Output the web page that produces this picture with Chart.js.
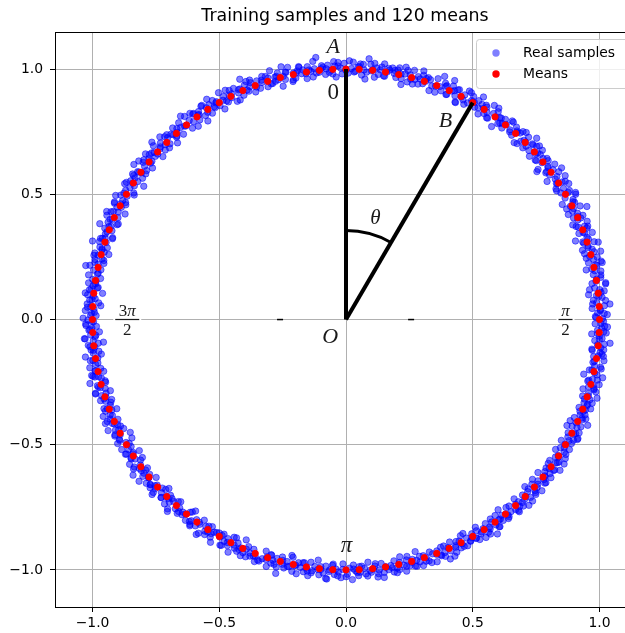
<!DOCTYPE html>
<html><head><meta charset="utf-8">
<script src="https://cdn.jsdelivr.net/npm/chart.js@4.4.1/dist/chart.umd.min.js"></script>
<style>
html,body{margin:0;padding:0;overflow:hidden;background:#fff;width:625px;height:633px}
#wrap{position:absolute;left:0;top:0;width:646px;height:633px}
</style>
</head><body><div id="wrap"><canvas id="c" width="646" height="633"></canvas></div>
<script>
const chartTitle = 'Training samples and 120 means';
const seriesNames = ['Real samples', 'Means'];
const tickValues = [-1.0, -0.5, 0.0, 0.5, 1.0];

// 120 means (x, y)
const meanX = [1,.999,.995,.988,.978,.966,.951,.934,.914,.891,.866,.839,.809,.777,.743,.707,.669,.629,.588,.545,.5,.454,.407,.358,.309,.259,.208,.156,.105,.052,0,
-.052,-.105,-.156,-.208,-.259,-.309,-.358,-.407,-.454,-.5,-.545,-.588,-.629,-.669,-.707,-.743,-.777,-.809,-.839,-.866,-.891,-.914,-.934,-.951,-.966,-.978,-.988,-.995,-.999,-1,
-.999,-.995,-.988,-.978,-.966,-.951,-.934,-.914,-.891,-.866,-.839,-.809,-.777,-.743,-.707,-.669,-.629,-.588,-.545,-.5,-.454,-.407,-.358,-.309,-.259,-.208,-.156,-.105,-.052,0,
.052,.105,.156,.208,.259,.309,.358,.407,.454,.5,.545,.588,.629,.669,.707,.743,.777,.809,.839,.866,.891,.914,.934,.951,.966,.978,.988,.995,.999];
const meanY = [0,.052,.105,.156,.208,.259,.309,.358,.407,.454,.5,.545,.588,.629,.669,.707,.743,.777,.809,.839,.866,.891,.914,.934,.951,.966,.978,.988,.995,.999,1,
.999,.995,.988,.978,.966,.951,.934,.914,.891,.866,.839,.809,.777,.743,.707,.669,.629,.588,.545,.5,.454,.407,.358,.309,.259,.208,.156,.105,.052,0,
-.052,-.105,-.156,-.208,-.259,-.309,-.358,-.407,-.454,-.5,-.545,-.588,-.629,-.669,-.707,-.743,-.777,-.809,-.839,-.866,-.891,-.914,-.934,-.951,-.966,-.978,-.988,-.995,-.999,-1,
-.999,-.995,-.988,-.978,-.966,-.951,-.934,-.914,-.891,-.866,-.839,-.809,-.777,-.743,-.707,-.669,-.629,-.588,-.545,-.5,-.454,-.407,-.358,-.309,-.259,-.208,-.156,-.105,-.052];

// real samples, polar: angle (degrees) and radius
const sampleDeg = [
0.2,0.7,1.1,1.5,2.0,2.6,3.1,3.4,3.9,4.5,5.0,5.3,5.9,6.4,6.8,7.3,7.9,8.4,8.8,9.5,
10.4,10.9,11.2,11.8,12.3,12.7,13.3,13.8,14.1,14.7,15.2,15.6,16.1,16.5,17.1,17.6,18.0,18.6,19.1,19.7,
20.1,20.5,21.0,21.6,21.9,22.4,22.9,23.5,24.0,24.3,24.9,25.4,25.8,26.3,26.9,27.4,27.7,28.3,28.9,29.3,
30.3,30.8,31.4,31.7,32.2,32.8,33.2,33.6,34.2,34.8,35.1,35.7,36.2,36.6,37.0,37.5,38.1,38.5,39.0,39.6,
40.2,40.7,41.1,41.5,42.0,42.6,43.1,43.4,43.9,44.5,45.0,45.3,45.9,46.4,46.8,47.3,47.9,48.4,48.8,49.5,
50.4,50.9,51.2,51.8,52.3,52.7,53.3,53.8,54.1,54.7,55.2,55.6,56.1,56.5,57.1,57.6,58.0,58.6,59.1,59.7,
60.1,60.5,61.0,61.6,61.9,62.4,62.9,63.5,64.0,64.3,64.9,65.4,65.8,66.3,66.9,67.4,67.7,68.3,68.9,69.3,
70.3,70.8,71.4,71.7,72.2,72.8,73.2,73.6,74.2,74.8,75.1,75.7,76.2,76.6,77.0,77.5,78.1,78.5,79.0,79.6,
80.2,80.7,81.1,81.5,82.0,82.6,83.1,83.4,83.9,84.5,85.0,85.3,85.9,86.4,86.8,87.3,87.9,88.4,88.8,89.5,
90.4,90.9,91.2,91.8,92.3,92.7,93.3,93.8,94.1,94.7,95.2,95.6,96.1,96.5,97.1,97.6,98.0,98.6,99.1,99.7,
100.1,100.5,101.0,101.6,101.9,102.4,102.9,103.5,104.0,104.3,104.9,105.4,105.8,106.3,106.9,107.4,107.7,108.3,108.9,109.3,
110.3,110.8,111.4,111.7,112.2,112.8,113.2,113.6,114.2,114.8,115.1,115.7,116.2,116.6,117.0,117.5,118.1,118.5,119.0,119.6,
120.2,120.7,121.1,121.5,122.0,122.6,123.1,123.4,123.9,124.5,125.0,125.3,125.9,126.4,126.8,127.3,127.9,128.4,128.8,129.5,
130.4,130.9,131.2,131.8,132.3,132.7,133.3,133.8,134.1,134.7,135.2,135.6,136.1,136.5,137.1,137.6,138.0,138.6,139.1,139.7,
140.1,140.5,141.0,141.6,141.9,142.4,142.9,143.5,144.0,144.3,144.9,145.4,145.8,146.3,146.9,147.4,147.7,148.3,148.9,149.3,
150.3,150.8,151.4,151.7,152.2,152.8,153.2,153.6,154.2,154.8,155.1,155.7,156.2,156.6,157.0,157.5,158.1,158.5,159.0,159.6,
160.2,160.7,161.1,161.5,162.0,162.6,163.1,163.4,163.9,164.5,165.0,165.3,165.9,166.4,166.8,167.3,167.9,168.4,168.8,169.5,
170.4,170.9,171.2,171.8,172.3,172.7,173.3,173.8,174.1,174.7,175.2,175.6,176.1,176.5,177.1,177.6,178.0,178.6,179.1,179.7,
180.1,180.5,181.0,181.6,181.9,182.4,182.9,183.5,184.0,184.3,184.9,185.4,185.8,186.3,186.9,187.4,187.7,188.3,188.9,189.3,
190.3,190.8,191.4,191.7,192.2,192.8,193.2,193.6,194.2,194.8,195.1,195.7,196.2,196.6,197.0,197.5,198.1,198.5,199.0,199.6,
200.2,200.7,201.1,201.5,202.0,202.6,203.1,203.4,203.9,204.5,205.0,205.3,205.9,206.4,206.8,207.3,207.9,208.4,208.8,209.5,
210.4,210.9,211.2,211.8,212.3,212.7,213.3,213.8,214.1,214.7,215.2,215.6,216.1,216.5,217.1,217.6,218.0,218.6,219.1,219.7,
220.1,220.5,221.0,221.6,221.9,222.4,222.9,223.5,224.0,224.3,224.9,225.4,225.8,226.3,226.9,227.4,227.7,228.3,228.9,229.3,
230.3,230.8,231.4,231.7,232.2,232.8,233.2,233.6,234.2,234.8,235.1,235.7,236.2,236.6,237.0,237.5,238.1,238.5,239.0,239.6,
240.2,240.7,241.1,241.5,242.0,242.6,243.1,243.4,243.9,244.5,245.0,245.3,245.9,246.4,246.8,247.3,247.9,248.4,248.8,249.5,
250.4,250.9,251.2,251.8,252.3,252.7,253.3,253.8,254.1,254.7,255.2,255.6,256.1,256.5,257.1,257.6,258.0,258.6,259.1,259.7,
260.1,260.5,261.0,261.6,261.9,262.4,262.9,263.5,264.0,264.3,264.9,265.4,265.8,266.3,266.9,267.4,267.7,268.3,268.9,269.3,
270.3,270.8,271.4,271.7,272.2,272.8,273.2,273.6,274.2,274.8,275.1,275.7,276.2,276.6,277.0,277.5,278.1,278.5,279.0,279.6,
280.2,280.7,281.1,281.5,282.0,282.6,283.1,283.4,283.9,284.5,285.0,285.3,285.9,286.4,286.8,287.3,287.9,288.4,288.8,289.5,
290.4,290.9,291.2,291.8,292.3,292.7,293.3,293.8,294.1,294.7,295.2,295.6,296.1,296.5,297.1,297.6,298.0,298.6,299.1,299.7,
300.1,300.5,301.0,301.6,301.9,302.4,302.9,303.5,304.0,304.3,304.9,305.4,305.8,306.3,306.9,307.4,307.7,308.3,308.9,309.3,
310.3,310.8,311.4,311.7,312.2,312.8,313.2,313.6,314.2,314.8,315.1,315.7,316.2,316.6,317.0,317.5,318.1,318.5,319.0,319.6,
320.2,320.7,321.1,321.5,322.0,322.6,323.1,323.4,323.9,324.5,325.0,325.3,325.9,326.4,326.8,327.3,327.9,328.4,328.8,329.5,
330.4,330.9,331.2,331.8,332.3,332.7,333.3,333.8,334.1,334.7,335.2,335.6,336.1,336.5,337.1,337.6,338.0,338.6,339.1,339.7,
340.1,340.5,341.0,341.6,341.9,342.4,342.9,343.5,344.0,344.3,344.9,345.4,345.8,346.3,346.9,347.4,347.7,348.3,348.9,349.3,
350.3,350.8,351.4,351.7,352.2,352.8,353.2,353.6,354.2,354.8,355.1,355.7,356.2,356.6,357.0,357.5,358.1,358.5,359.0,359.6,
0.45,1.35,2.25,3.65,4.25,5.55,6.15,7.05,8.15,9.25,
10.05,11.75,12.55,13.05,14.45,15.45,16.75,17.25,18.35,19.05,
20.45,21.35,22.25,23.65,24.25,25.55,26.15,27.05,28.15,29.25,
30.05,31.75,32.55,33.05,34.45,35.45,36.75,37.25,38.35,39.05,
40.45,41.35,42.25,43.65,44.25,45.55,46.15,47.05,48.15,49.25,
50.05,51.75,52.55,53.05,54.45,55.45,56.75,57.25,58.35,59.05,
60.45,61.35,62.25,63.65,64.25,65.55,66.15,67.05,68.15,69.25,
70.05,71.75,72.55,73.05,74.45,75.45,76.75,77.25,78.35,79.05,
80.45,81.35,82.25,83.65,84.25,85.55,86.15,87.05,88.15,89.25,
90.05,91.75,92.55,93.05,94.45,95.45,96.75,97.25,98.35,99.05,
100.45,101.35,102.25,103.65,104.25,105.55,106.15,107.05,108.15,109.25,
110.05,111.75,112.55,113.05,114.45,115.45,116.75,117.25,118.35,119.05,
120.45,121.35,122.25,123.65,124.25,125.55,126.15,127.05,128.15,129.25,
130.05,131.75,132.55,133.05,134.45,135.45,136.75,137.25,138.35,139.05,
140.45,141.35,142.25,143.65,144.25,145.55,146.15,147.05,148.15,149.25,
150.05,151.75,152.55,153.05,154.45,155.45,156.75,157.25,158.35,159.05,
160.45,161.35,162.25,163.65,164.25,165.55,166.15,167.05,168.15,169.25,
170.05,171.75,172.55,173.05,174.45,175.45,176.75,177.25,178.35,179.05,
180.45,181.35,182.25,183.65,184.25,185.55,186.15,187.05,188.15,189.25,
190.05,191.75,192.55,193.05,194.45,195.45,196.75,197.25,198.35,199.05,
200.45,201.35,202.25,203.65,204.25,205.55,206.15,207.05,208.15,209.25,
210.05,211.75,212.55,213.05,214.45,215.45,216.75,217.25,218.35,219.05,
220.45,221.35,222.25,223.65,224.25,225.55,226.15,227.05,228.15,229.25,
230.05,231.75,232.55,233.05,234.45,235.45,236.75,237.25,238.35,239.05,
240.45,241.35,242.25,243.65,244.25,245.55,246.15,247.05,248.15,249.25,
250.05,251.75,252.55,253.05,254.45,255.45,256.75,257.25,258.35,259.05,
260.45,261.35,262.25,263.65,264.25,265.55,266.15,267.05,268.15,269.25,
270.05,271.75,272.55,273.05,274.45,275.45,276.75,277.25,278.35,279.05,
280.45,281.35,282.25,283.65,284.25,285.55,286.15,287.05,288.15,289.25,
290.05,291.75,292.55,293.05,294.45,295.45,296.75,297.25,298.35,299.05,
300.45,301.35,302.25,303.65,304.25,305.55,306.15,307.05,308.15,309.25,
310.05,311.75,312.55,313.05,314.45,315.45,316.75,317.25,318.35,319.05,
320.45,321.35,322.25,323.65,324.25,325.55,326.15,327.05,328.15,329.25,
330.05,331.75,332.55,333.05,334.45,335.45,336.75,337.25,338.35,339.05,
340.45,341.35,342.25,343.65,344.25,345.55,346.15,347.05,348.15,349.25,
350.05,351.75,352.55,353.05,354.45,355.45,356.75,357.25,358.35,359.05];
const sampleR = [
1.012,.984,1.031,.993,1.004,.972,1.021,1.043,.991,.979,1.014,1.002,.962,1.025,1.008,.989,1.034,.981,.998,1.019,
.992,1.024,1.001,.968,1.013,1.036,.983,1.006,1.022,.994,1.041,.977,1.011,.973,.999,1.027,.986,1.009,.958,1.032,
1.003,.981,1.018,1.012,.988,1.029,.971,.997,1.023,.985,1.007,1.052,.993,1.001,.976,1.016,1.011,.969,1.035,.991,
1.021,.987,1.005,1.033,.979,1.014,.992,1.038,.998,.966,1.026,.989,1.012,.982,1.031,1.004,.957,1.019,.995,1.009,
.983,1.011,1.028,.999,.974,1.022,.988,1.015,1.044,.978,1.002,1.024,.991,1.031,.969,1.013,1.006,.984,1.021,.996,
1.029,1.003,.981,1.017,.992,1.011,.961,1.001,1.024,1.008,.979,1.036,.997,.986,1.019,.972,1.013,1.041,.988,1.004,
1.002,1.023,.989,.977,1.034,1.012,.998,.968,1.021,.991,1.009,1.003,1.046,.981,1.015,1.022,.987,1.001,.973,1.028,
.971,1.014,1.019,1.002,.989,1.039,.982,1.011,.996,1.031,.993,.979,1.024,1.008,.963,1.004,1.027,.986,1.013,1.021,
1.011,1.001,.983,1.032,1.018,.987,1.012,.974,1.003,1.024,1.045,.991,.999,.978,1.022,1.009,.992,1.028,1.002,.984,
1.023,.981,1.004,1.013,.969,1.031,.997,.989,1.018,.982,1.012,1.006,.993,1.053,1.009,.977,1.001,1.021,.994,1.011,
.997,1.027,1.011,.984,1.006,.973,1.033,1.015,.988,1.002,.964,1.021,1.009,.991,1.038,.986,1.012,.979,1.026,1.003,
1.016,.993,.976,1.029,1.004,.989,1.018,1.047,.982,1.011,.999,1.024,.971,1.008,.994,1.032,.985,1.013,1.001,.967,
.988,1.006,1.021,.996,1.037,.978,1.009,.991,1.026,.962,1.014,1.003,.984,1.019,1.028,.993,1.007,.975,1.042,1.001,
1.007,.979,1.013,1.026,.991,1.004,.969,1.022,1.011,.987,1.035,.998,1.016,.983,1.002,1.029,.972,1.009,.995,1.018,
1.031,1.008,.992,.974,1.017,1.003,.986,1.041,.997,1.012,.981,1.023,1.006,.959,1.014,.991,1.025,1.002,.978,1.011,
.994,1.018,1.035,1.001,.982,1.027,.993,1.009,.968,1.014,1.022,.987,1.031,1.005,.976,1.016,.999,1.044,.989,1.006,
1.009,.976,1.004,1.021,.995,1.048,.984,1.013,1.002,.971,1.026,1.011,.992,1.019,.981,1.003,1.033,.987,1.015,.997,
.982,1.012,.998,1.026,1.007,.989,1.019,.966,1.034,1.001,.993,1.014,.978,1.023,1.008,.995,1.029,1.004,.986,1.037,
1.018,.996,1.027,.985,1.003,1.015,.974,1.009,.992,1.032,1.001,.961,1.022,.997,1.013,.983,1.006,1.039,.991,1.012,
1.004,1.029,.987,1.011,.978,1.024,1.002,.993,1.042,.981,1.016,1.007,.989,1.031,.972,1.011,.996,1.021,1.003,.985,
.991,1.007,1.017,.972,1.033,.998,1.012,1.026,.984,1.005,.994,1.038,1.011,.979,1.021,1.002,.963,1.015,1.028,.997,
1.026,.988,1.003,1.019,.993,.969,1.014,1.001,1.031,.986,1.022,.997,1.009,1.045,.982,1.006,1.017,.991,1.002,1.024,
.979,1.015,1.024,.996,1.011,1.036,.989,1.004,.971,1.018,1.002,.986,1.027,1.009,.995,1.041,.983,1.012,.998,1.021,
1.013,1.002,.985,1.022,.968,1.009,1.029,.993,1.016,1.001,.977,1.033,.994,1.012,1.024,.981,1.007,.996,1.038,.988,
1.001,.983,1.029,1.008,.991,1.017,.975,1.039,1.003,.989,1.021,1.011,.964,1.016,.998,1.027,1.006,.987,1.013,1.032,
1.024,1.011,.977,.998,1.035,.986,1.004,1.018,.992,1.051,.981,1.009,1.022,.994,1.013,.972,1.028,1.001,.989,1.007,
.986,1.021,1.006,1.034,.979,1.012,.994,.967,1.025,1.003,1.016,.988,1.039,1.002,.983,1.019,.997,1.008,1.031,.976,
1.017,.993,1.039,.981,1.005,1.024,1.011,.987,.996,1.028,.973,1.014,1.002,.991,1.036,1.009,.984,1.021,.999,1.013,
.998,1.026,.982,1.013,1.021,.971,1.007,1.033,.989,1.015,1.004,.993,1.024,.966,1.011,1.029,.991,1.003,1.018,.985,
1.032,1.004,.991,1.016,.983,1.009,1.041,.996,1.012,.978,1.027,1.001,.987,1.019,1.006,.974,1.023,.994,1.011,1.002,
.989,1.013,1.025,.974,1.008,1.031,.995,1.019,.983,1.004,1.044,.992,1.011,1.026,.979,1.003,1.014,.968,1.021,1.009,
1.006,.984,1.012,1.028,.996,.976,1.022,1.009,1.035,.988,1.001,1.017,.993,.971,1.024,1.011,.985,1.032,1.003,.994,
1.021,1.009,.973,1.002,1.026,1.013,.987,.998,1.019,1.037,.981,1.006,1.015,.992,1.003,1.028,.976,1.011,.989,1.023,
.977,1.018,1.004,.993,1.031,.986,1.014,1.025,.969,1.008,1.021,.997,1.043,.982,1.011,.999,1.017,1.006,.984,1.029,
1.011,.996,1.027,1.014,.982,1.039,1.001,.975,1.018,.994,1.009,1.032,.988,1.021,.963,1.015,1.004,.991,1.026,.998,
.994,1.031,.988,1.006,1.019,.979,1.024,1.011,.997,1.046,.985,1.013,1.002,.971,1.028,.993,1.009,1.021,.983,1.016,
.986,1.019,1.004,.975,1.027,.993,1.012,.968,1.035,1.001,
1.021,.991,1.008,1.033,.979,1.015,.997,1.042,.984,1.006,
.998,1.024,.981,1.011,1.003,.972,1.029,.994,1.016,1.038,
1.013,.977,1.026,.995,1.009,1.044,.988,1.002,.966,1.021,
.981,1.007,1.031,1.016,.992,1.003,.974,1.025,1.011,.989,
1.028,.996,.985,1.009,1.037,.978,1.014,1.002,.993,1.019,
1.005,1.032,.991,.969,1.018,1.024,.983,1.011,1.046,.997,
.992,1.013,1.022,1.004,.976,1.009,1.035,.986,1.017,1.001,
1.017,.984,1.006,1.029,.998,.963,1.021,1.012,.989,1.033,
.995,1.027,1.013,.982,1.004,1.018,.991,1.039,1.007,.974,
1.024,1.003,.979,1.016,1.041,.994,1.008,.986,1.021,1.012,
.983,1.018,1.029,.996,1.011,.971,1.024,1.005,.992,1.036,
1.009,.991,1.014,1.027,.985,1.003,1.019,.967,1.031,.998,
1.026,1.001,.988,1.012,1.022,.977,1.006,1.043,.994,1.015,
.993,1.021,1.034,.981,1.007,1.016,.989,1.002,1.028,.972,
1.011,.987,1.002,1.025,.996,1.038,1.013,.979,1.006,1.019,
.977,1.014,1.021,1.003,.991,1.027,.984,1.017,1.049,.995,
1.031,.998,.986,1.012,1.024,1.005,.969,1.021,.993,1.008,
1.002,1.026,1.011,.989,1.035,.982,1.016,1.004,.975,1.022,
.994,1.009,1.028,1.017,.981,1.013,1.032,.991,1.006,.978,
1.019,.992,1.005,1.036,1.011,.986,.999,1.024,1.014,.968,
.988,1.023,.997,1.012,.974,1.029,1.008,.993,1.041,1.003,
1.015,1.004,1.027,.983,1.019,1.001,.991,1.033,.977,1.012,
1.003,.979,1.016,1.024,.995,1.042,.987,1.009,1.021,.992,
.991,1.028,1.006,.973,1.014,1.002,1.031,.985,1.018,1.011,
1.022,1.009,.984,1.017,1.026,.994,1.012,.966,1.003,1.034,
.985,1.016,1.021,1.004,.992,1.037,1.009,.978,1.024,.998,
1.027,.997,1.011,.988,1.019,1.006,.982,1.023,1.041,1.002,
1.008,1.031,.993,1.014,.976,1.022,1.001,.989,1.016,1.028,
.996,1.012,1.024,.983,1.038,1.007,.991,1.019,.971,1.013,
1.014,.988,1.003,1.029,1.011,.979,1.025,1.002,.994,1.017,
.981,1.022,1.013,.996,1.006,1.033,.987,1.018,1.009,.974,
1.023,1.005,.992,1.017,.983,1.011,1.036,.998,1.021,1.002,
.997,1.019,1.031,1.008,.989,.972,1.015,1.026,.993,1.011,
1.012,.993,1.004,1.027,1.016,.985,1.001,1.039,.981,1.022,
.989,1.026,1.011,.977,1.024,1.003,.994,1.018,1.032,1.006];

// annotation geometry (data units): rays from the origin to A and B, arc theta
const rayEndX = [0, 0.5];
const rayEndY = [1, 0.866];
const arcRadius = 0.355;
const arcFromDeg = 90, arcToDeg = 60;

// tables for the library
const sampleData = sampleDeg.map((d, i) => ({
  x: sampleR[i] * Math.cos(d * Math.PI / 180),
  y: sampleR[i] * Math.sin(d * Math.PI / 180)
}));
const meanData = meanX.map((x, i) => ({ x, y: meanY[i] }));

const fmt = v => (Math.abs(v) < 1e-9 ? 0 : v).toFixed(1).replace('-', '\u2212');
const SERIF = '"Liberation Serif", "DejaVu Serif", serif';

function mathText(ctx, parts, cx, baseY, size) {
  const ws = []; let total = 0;
  for (const [t, it] of parts) {
    ctx.font = (it ? 'italic ' : '') + size + 'px ' + SERIF;
    const w = ctx.measureText(t).width; ws.push(w); total += w;
  }
  let x = cx - total / 2;
  ctx.textAlign = 'left'; ctx.textBaseline = 'alphabetic';
  parts.forEach(([t, it], i) => {
    ctx.font = (it ? 'italic ' : '') + size + 'px ' + SERIF;
    ctx.fillText(t, x, baseY); x += ws[i];
  });
}
function fraction(ctx, num, den, cx, barY, size, barW) {
  ctx.fillStyle = '#fff';
  ctx.fillRect(cx - barW / 2 - 2, barY - 1.5, barW + 4, 3);
  ctx.fillStyle = '#1a1a1a';
  ctx.fillRect(cx - barW / 2, barY - 0.6, barW, 1.2);
  mathText(ctx, num, cx, barY - 4, size);
  mathText(ctx, den, cx, barY + 15, size);
}

const overlay = {
  id: 'overlay',
  beforeDraw(chart) {
    const c = chart.ctx; c.save(); c.fillStyle = '#fff'; c.fillRect(0, 0, chart.width, chart.height); c.restore();
  },
  afterDatasetsDraw(chart) {
    const { ctx, scales: { x, y }, chartArea: ca } = chart;
    const px = v => x.getPixelForValue(v), py = v => y.getPixelForValue(v);
    ctx.save();
    // top / right spines
    ctx.strokeStyle = '#000'; ctx.lineWidth = 1;
    ctx.beginPath(); ctx.moveTo(ca.left, ca.top + 0.5); ctx.lineTo(ca.right, ca.top + 0.5);
    ctx.moveTo(ca.right - 0.5, ca.top); ctx.lineTo(ca.right - 0.5, ca.bottom); ctx.stroke();
    // rays
    ctx.strokeStyle = '#000'; ctx.lineWidth = 4; ctx.lineCap = 'butt'; ctx.lineJoin = 'miter';
    for (let i = 0; i < rayEndX.length; i++) {
      ctx.beginPath(); ctx.moveTo(px(0), py(0)); ctx.lineTo(px(rayEndX[i]), py(rayEndY[i])); ctx.stroke();
    }
    // arc
    const rx = px(arcRadius) - px(0), ry = py(0) - py(arcRadius);
    ctx.lineWidth = 3;
    ctx.beginPath();
    ctx.ellipse(px(0), py(0), rx, ry, 0, -arcFromDeg * Math.PI / 180, -arcToDeg * Math.PI / 180, false);
    ctx.stroke();
    // small dashes
    ctx.fillStyle = '#000';
    ctx.fillRect(px(-0.272), py(0) - 0.7, 6, 1.5);
    ctx.fillRect(px(0.245), py(0) - 0.7, 6, 1.5);
    // labels
    ctx.fillStyle = '#1a1a1a';
    mathText(ctx, [['A', true]], px(-0.05), py(1.093) + 7.5, 22);
    mathText(ctx, [['0', false]], px(-0.05), py(0.913) + 8, 23);
    mathText(ctx, [['B', true]], px(0.392), py(0.798) + 7.5, 22);
    mathText(ctx, [['\u03b8', true]], px(0.116), py(0.408) + 7, 21);
    mathText(ctx, [['O', true]], px(-0.062), py(-0.063) + 7.5, 22);
    mathText(ctx, [['\u03c0', true]], px(0.002), py(-0.907) + 5, 23);
    fraction(ctx, [['3', false], ['\u03c0', true]], [['2', false]], px(-0.863), py(0), 17, 24);
    fraction(ctx, [['\u03c0', true]], [['2', false]], px(0.866), py(0), 17, 14);
    ctx.restore();
  },
  afterDraw(chart) {
    const { ctx, chartArea: ca } = chart;
    ctx.save();
    // title
    ctx.fillStyle = '#000';
    ctx.font = '17.4px "DejaVu Sans"';
    ctx.textAlign = 'center'; ctx.textBaseline = 'alphabetic';
    ctx.fillText(chartTitle, (ca.left + ca.right) / 2 - 1, 20.5);
    // legend
    const lx = 476, ly = 39, lw = 154, lh = 49;
    ctx.fillStyle = 'rgba(255,255,255,0.8)';
    ctx.strokeStyle = '#cccccc'; ctx.lineWidth = 1;
    ctx.beginPath(); ctx.roundRect(lx + 0.5, ly + 0.5, lw, lh, 3); ctx.fill(); ctx.stroke();
    ctx.fillStyle = 'rgba(0,0,255,0.5)';
    ctx.beginPath(); ctx.arc(496, 53, 3.7, 0, Math.PI * 2); ctx.fill();
    ctx.fillStyle = '#ff0000';
    ctx.beginPath(); ctx.arc(496, 74, 3.7, 0, Math.PI * 2); ctx.fill();
    ctx.fillStyle = '#000';
    ctx.font = '13.9px "DejaVu Sans"';
    ctx.textAlign = 'left'; ctx.textBaseline = 'middle';
    ctx.fillText(seriesNames[0], 523, 53);
    ctx.fillText(seriesNames[1], 523, 74);
    ctx.restore();
  }
};

const axisCommon = {
  type: 'linear', min: -1.148, max: 1.148,
  afterBuildTicks: s => { s.ticks = tickValues.map(v => ({ value: v })); },
  grid: { color: '#b0b0b0', lineWidth: 1, tickColor: '#000', tickLength: 5, tickWidth: 1, drawTicks: true },
  border: { color: '#000', width: 1 }
};

new Chart(document.getElementById('c'), {
  type: 'scatter',
  data: {
    datasets: [
      { label: seriesNames[0], data: sampleData, order: 2,
        backgroundColor: 'rgba(0,0,255,0.5)', borderColor: 'rgba(0,0,255,0.5)', borderWidth: 1,
        pointRadius: 3.2, pointHoverRadius: 3.2 },
      { label: seriesNames[1], data: meanData, order: 1,
        backgroundColor: '#ff0000', borderColor: '#ff0000', borderWidth: 1,
        pointRadius: 3.1, pointHoverRadius: 3.1 }
    ]
  },
  options: {
    responsive: false, animation: false, devicePixelRatio: 1,
    layout: { padding: { left: 0, right: 9, top: 32, bottom: 0 } },
    plugins: { legend: { display: false }, title: { display: false }, tooltip: { enabled: false } },
    events: [],
    scales: {
      x: Object.assign({}, axisCommon, {
        position: 'bottom',
        ticks: { color: '#000', font: { family: 'DejaVu Sans', size: 13.9 }, padding: 3, maxRotation: 0, autoSkip: false, callback: v => fmt(v) },
        afterFit: s => { s.height = 26; }
      }),
      y: Object.assign({}, axisCommon, {
        position: 'left',
        ticks: { color: '#000', font: { family: 'DejaVu Sans', size: 13.9 }, padding: 7, autoSkip: false, callback: v => fmt(v) },
        afterFit: s => { s.width = 55; }
      })
    }
  },
  plugins: [overlay]
});
</script>
</body></html>
